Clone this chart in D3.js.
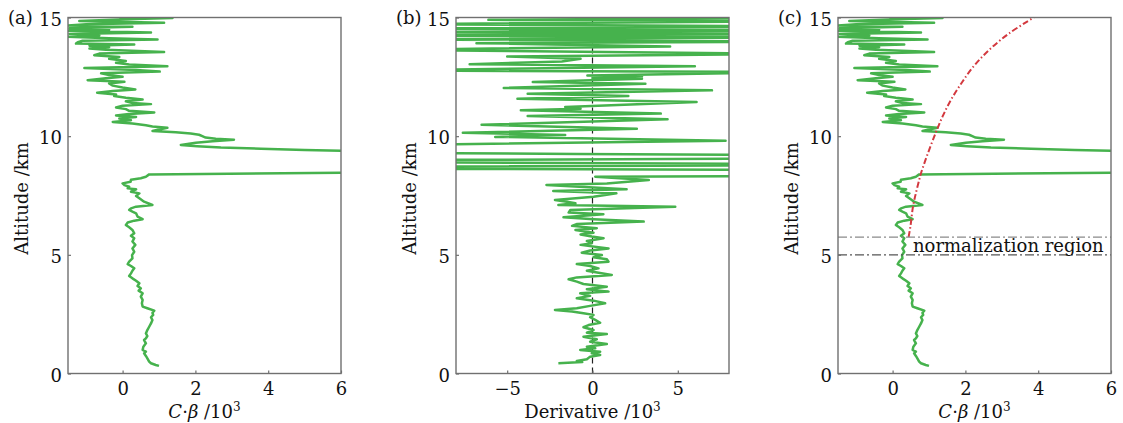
<!DOCTYPE html>
<html>
<head>
<meta charset="utf-8">
<script src="https://cdn.jsdelivr.net/npm/d3@7"></script>
<style>
  body { margin: 0; background: #fff; }
  svg { display: block; }
  text { font-family: "DejaVu Serif", serif; fill: #111; }
</style>
</head>
<body>
<svg id="fig" width="1123" height="423"></svg>
<script>
// Range-corrected lidar signal profile (C·β, ×10³) versus altitude (km)
const profileAlt = [0.32,0.36,0.43,0.50,0.64,0.74,0.85,0.92,0.99,1.13,1.27,1.41,1.48,1.58,1.69,1.83,1.97,2.11,2.25,2.37,2.47,2.56,2.65,2.75,2.82,2.96,3.10,3.24,3.38,3.49,3.59,3.69,3.80,3.91,4.01,4.11,4.22,4.33,4.43,4.53,4.61,4.71,4.85,4.99,5.13,5.27,5.42,5.56,5.70,5.80,5.91,6.05,6.16,6.26,6.36,6.44,6.50,6.61,6.75,6.82,6.89,6.96,7.03,7.10,7.24,7.38,7.48,7.59,7.66,7.76,7.80,7.87,7.94,8.01,8.08,8.16,8.23,8.29,8.39,8.47,8.60,8.80,9.00,9.20,9.37,9.42,9.47,9.52,9.58,9.63,9.72,9.79,9.85,9.89,9.94,10.00,10.06,10.11,10.17,10.22,10.28,10.35,10.41,10.46,10.53,10.60,10.67,10.74,10.81,10.87,10.93,11.00,11.07,11.14,11.21,11.28,11.35,11.40,11.47,11.54,11.62,11.69,11.76,11.83,11.90,11.97,12.05,12.13,12.22,12.29,12.36,12.44,12.50,12.58,12.65,12.72,12.79,12.87,12.95,13.02,13.09,13.17,13.26,13.34,13.41,13.48,13.55,13.64,13.69,13.75,13.81,13.86,13.90,13.96,14.02,14.07,14.13,14.19,14.24,14.31,14.37,14.44,14.49,14.55,14.61,14.66,14.72,14.78,14.85,14.93,14.98,15.00];
const profileVal = [1.00,0.91,0.78,0.73,0.68,0.64,0.59,0.64,0.55,0.57,0.64,0.59,0.64,0.68,0.64,0.68,0.73,0.78,0.82,0.78,0.84,0.82,0.87,0.68,0.55,0.53,0.55,0.50,0.55,0.44,0.50,0.41,0.46,0.37,0.27,0.18,0.23,0.27,0.32,0.23,0.14,0.18,0.27,0.26,0.32,0.27,0.35,0.27,0.32,0.23,0.32,0.27,0.18,0.09,0.14,0.32,0.55,0.41,0.37,0.27,0.18,0.23,0.37,0.82,0.59,0.46,0.37,0.46,0.23,0.37,0.14,0.18,0.05,0.00,0.22,0.23,0.50,0.64,0.73,7.0,14,16,18,14,6.4,5.0,3.8,2.7,2.05,1.60,2.01,2.47,3.06,2.56,2.28,2.19,2.10,1.87,1.46,0.82,1.00,1.23,0.82,0.64,0.27,-0.27,0.23,-0.09,0.37,-0.18,0.18,0.87,0.18,0.09,-0.18,0.00,0.78,0.27,0.09,0.55,0.09,-0.23,-0.18,-0.70,-0.27,0.35,0.00,-0.27,-0.37,0.05,-0.96,-0.46,0.00,-0.37,-0.59,1.02,0.37,-1.05,1.23,0.18,-0.18,0.09,-0.37,-0.09,-0.78,-0.64,1.14,-0.46,-0.91,-0.37,-0.91,0.32,-1.28,-1.23,-1.10,0.96,-0.37,-1.52,-0.64,-1.46,0.78,-1.52,-0.37,-1.46,0.27,-1.55,-1.00,1.14,-1.19,0.09,1.37,-0.09];

// Derivative of the profile (×10³) versus altitude (km)
const derivAlt = [0.43,0.48,0.53,0.60,0.71,0.78,0.85,0.92,0.99,1.06,1.13,1.24,1.34,1.44,1.55,1.66,1.72,1.83,1.95,2.04,2.14,2.26,2.37,2.47,2.54,2.61,2.68,2.75,2.85,2.96,3.07,3.17,3.27,3.38,3.45,3.55,3.66,3.77,3.87,3.97,4.05,4.15,4.33,4.43,4.53,4.61,4.71,4.81,4.90,4.99,5.09,5.18,5.27,5.42,5.49,5.58,5.70,5.77,5.86,5.93,6.05,6.12,6.22,6.30,6.40,6.50,6.58,6.71,6.78,6.89,7.03,7.10,7.17,7.24,7.31,7.45,7.59,7.69,7.76,7.94,8.01,8.15,8.29,8.32,8.57,8.63,8.71,8.77,8.83,8.90,8.99,9.06,9.20,9.25,9.30,9.62,9.81,9.97,10.05,10.14,10.31,10.48,10.71,10.85,10.95,11.09,11.16,11.23,11.44,11.58,11.69,11.79,11.93,12.03,12.21,12.28,12.42,12.45,12.52,12.56,12.70,12.77,12.95,13.03,13.15,13.26,13.36,13.47,13.64,13.78,13.92,13.98,14.08,14.16,14.24,14.31,14.38,14.46,14.53,14.62,14.72,14.84,14.90,14.99];
const derivVal = [-2.0,-0.6,-0.92,-0.33,-0.14,0.45,-0.04,0.45,-0.72,0.16,-0.33,0.84,-0.14,0.25,-0.53,0.84,-0.33,0.06,-0.53,-0.23,0.45,0.16,-0.14,0.06,-0.53,-1.2,-2.2,-0.92,-0.14,0.74,0.06,-0.92,-0.14,-0.72,0.94,-0.33,0.84,-0.53,-0.92,-1.4,-0.92,1.13,-0.33,0.35,-0.14,-0.92,0.94,0.84,0.06,0.55,-0.63,-0.14,0.94,-0.7,-0.04,-0.33,0.65,-0.04,-0.7,0.06,-1.0,0.25,-1.2,-0.9,3.0,0.06,-1.7,0.64,-1.4,-1.3,4.85,-2.0,-1.0,-1.5,-2.2,0.06,1.4,-2.3,2.0,-2.7,0.84,3.3,0.16,12,12,-12,-12,12,12,-12,-12,12,12,-0.9,-12,-12,7.8,-5.7,-1.6,-7.6,2.6,-6.5,4.4,-3.8,4.0,-4.2,-0.7,-1.6,6.1,-4.4,2.1,-3.8,7.0,-5.2,3.1,-3.5,2.9,0,2.9,-0.3,12,-12,6.0,-7.2,-1.8,-0.7,-5.0,12,-12,4.55,-6.8,12,-12,12,-12,12,-12,12,-12,12,-12,12,-6.1,12];

// Molecular reference curve fitted in the normalization region
const fitAlt = [5.75,6.20,7.03,7.60,8.15,8.44,9.28,10.12,10.82,11.52,12.23,12.93,13.63,14.33,15.00];
const fitVal = [0.44,0.49,0.56,0.64,0.73,0.78,0.97,1.18,1.37,1.60,1.89,2.22,2.65,3.20,3.88];

// Normalization region bounds (km)
const normBounds = [5.75, 5.0];

const altTicks = [0, 5, 10, 15];
const cbTicks = [0, 2, 4, 6];
const derivTicks = [-5, 0, 5];

const svg = d3.select("#fig");
svg.append("rect").attr("width", 1123).attr("height", 423).attr("fill", "#fff");

const plotTop = 17.5, plotBottom = 373.5, pw = 273;
const y = d3.scaleLinear().domain([0, 15]).range([plotBottom, plotTop]);

const GREEN = "#46b24d";
const FRAME = "#707070";

function panel(id, left, xDomain, xTicks, letter, xLabelFn) {
  const x = d3.scaleLinear().domain(xDomain).range([left, left + pw]);
  const g = svg.append("g");
  const clipId = "clip-" + id;
  svg.append("defs").append("clipPath").attr("id", clipId)
    .append("rect").attr("x", left).attr("y", plotTop).attr("width", pw).attr("height", plotBottom - plotTop);

  const plot = g.append("g").attr("clip-path", `url(#${clipId})`);

  // axes (ticks pointing inward)
  const ya = g.append("g").attr("transform", `translate(${left},0)`)
    .call(d3.axisLeft(y).tickValues(altTicks).tickSize(-3).tickPadding(6).tickFormat(d3.format("d")));
  const xa = g.append("g").attr("transform", `translate(0,${plotBottom})`)
    .call(d3.axisBottom(x).tickValues(xTicks).tickSize(-3).tickPadding(9).tickFormat(d3.format("d")));
  [ya, xa].forEach(a => {
    a.select(".domain").remove();
    a.selectAll(".tick line").attr("stroke", FRAME).attr("stroke-width", 1.2);
    a.selectAll(".tick text").attr("font-size", 18).attr("font-family", "DejaVu Serif").attr("fill", "#111");
  });
  ya.selectAll(".tick text").attr("dy", "0.42em");
  xa.selectAll(".tick text").attr("dy", "0.70em");

  // frame
  g.append("rect").attr("x", left).attr("y", plotTop).attr("width", pw).attr("height", plotBottom - plotTop)
    .attr("fill", "none").attr("stroke", FRAME).attr("stroke-width", 1.4);

  // panel letter
  g.append("text").attr("x", left - 60).attr("y", 24).attr("font-size", 18).text(letter);

  // y label
  g.append("text").attr("transform", `translate(${left - 40},${(plotTop + plotBottom) / 2 + 3}) rotate(-90)`)
    .attr("text-anchor", "middle").attr("font-size", 18).text("Altitude /km");

  // x label
  const xl = g.append("text").attr("x", left + pw / 2).attr("y", 418).attr("text-anchor", "middle").attr("font-size", 18);
  xLabelFn(xl);

  return { x, plot };
}

function cbLabel(t) {
  t.append("tspan").attr("font-style", "italic").text("C");
  t.append("tspan").text("·");
  t.append("tspan").attr("font-style", "italic").text("β");
  t.append("tspan").text(" /10");
  t.append("tspan").attr("font-size", 12).attr("dy", -7).text("3");
}
function derivLabel(t) {
  t.append("tspan").text("Derivative /10");
  t.append("tspan").attr("font-size", 12).attr("dy", -7).text("3");
}

const profile = profileAlt.map((a, i) => [profileVal[i], a]);
const deriv = derivAlt.map((a, i) => [derivVal[i], a]);
const fit = fitAlt.map((a, i) => [fitVal[i], a]);

// (a)
const pa = panel("a", 68, [-1.5, 6], cbTicks, "(a)", cbLabel);
pa.plot.append("path").datum(profile)
  .attr("d", d3.line().x(d => pa.x(d[0])).y(d => y(d[1])))
  .attr("fill", "none").attr("stroke", GREEN).attr("stroke-width", 2.5).attr("stroke-linejoin", "round");

// (b)
const pb = panel("b", 456, [-8, 8], derivTicks, "(b)", derivLabel);
pb.plot.append("line").attr("x1", pb.x(0)).attr("x2", pb.x(0)).attr("y1", plotTop).attr("y2", plotBottom)
  .attr("stroke", "#222").attr("stroke-width", 1.2).attr("stroke-dasharray", "6,4");
pb.plot.append("path").datum(deriv)
  .attr("d", d3.line().x(d => pb.x(d[0])).y(d => y(d[1])))
  .attr("fill", "none").attr("stroke", GREEN).attr("stroke-width", 2.5).attr("stroke-linejoin", "round");

// (c)
const pc = panel("c", 838, [-1.5, 6], cbTicks, "(c)", cbLabel);
pc.plot.append("path").datum(profile)
  .attr("d", d3.line().x(d => pc.x(d[0])).y(d => y(d[1])))
  .attr("fill", "none").attr("stroke", GREEN).attr("stroke-width", 2.5).attr("stroke-linejoin", "round");
pc.plot.append("path").datum(fit)
  .attr("d", d3.line().curve(d3.curveCatmullRom).x(d => pc.x(d[0])).y(d => y(d[1])))
  .attr("fill", "none").attr("stroke", "#d3393f").attr("stroke-width", 2)
  .attr("stroke-dasharray", "6,2.5,1.5,2.5");
pc.plot.selectAll("line.norm").data(normBounds).join("line").attr("class", "norm")
  .attr("x1", pc.x(-1.5)).attr("x2", pc.x(6)).attr("y1", d => y(d)).attr("y2", d => y(d))
  .attr("stroke", (d, i) => i === 0 ? "#8a8a8a" : "#555").attr("stroke-width", 1.3)
  .attr("stroke-dasharray", "9,3,2,3");
pc.plot.append("text").attr("x", 913).attr("y", 252).attr("font-size", 18).text("normalization region");
</script>
</body>
</html>
